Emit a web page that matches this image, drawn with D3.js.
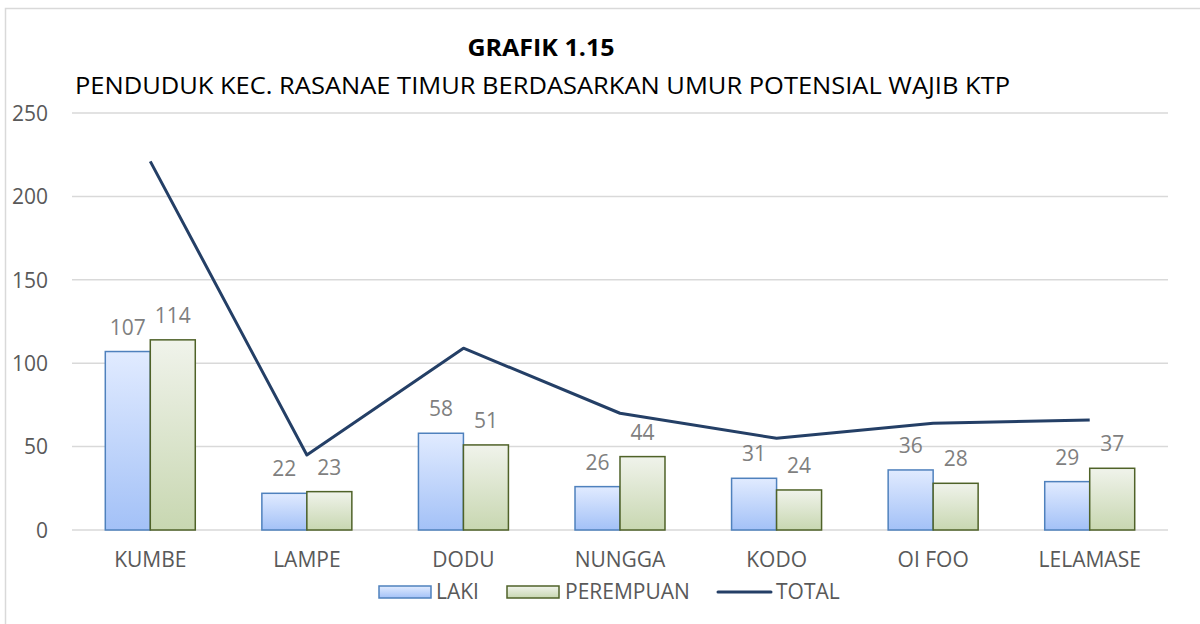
<!DOCTYPE html>
<html><head><meta charset="utf-8">
<script src="https://cdn.jsdelivr.net/npm/d3@7"></script>
<style>body{margin:0;background:#fff}svg{display:block}</style>
</head><body>
<svg id="c" width="1200" height="624"></svg>
<script>
const categories = ["KUMBE","LAMPE","DODU","NUNGGA","KODO","OI FOO","LELAMASE"];
const laki = [107,22,58,26,31,36,29];
const perempuan = [114,23,51,44,24,28,37];
const total = [221,45,109,70,55,64,66];
const yTicks = [0,50,100,150,200,250];
const seriesNames = ["LAKI","PEREMPUAN","TOTAL"];

const FONT = "'Open Sans', 'Noto Sans', sans-serif";
const svg = d3.select("#c");
const defs = svg.append("defs");
function grad(id, top, bot){
  const g = defs.append("linearGradient").attr("id",id).attr("x1",0).attr("y1",0).attr("x2",0).attr("y2",1);
  g.append("stop").attr("offset","0%").attr("stop-color",top);
  g.append("stop").attr("offset","100%").attr("stop-color",bot);
}
grad("gL","#e1ebff","#a3c1f7");
grad("gP","#f0f3eb","#c8d7b1");

// chart border
svg.append("rect").attr("x",5.5).attr("y",8.5).attr("width",1210).attr("height",640)
  .attr("fill","none").attr("stroke","#d9d9d9").attr("stroke-width",1.5);

const L = 72, R = 1168, T = 113, B = 530;
const x = d3.scaleBand().domain(categories).range([L,R]).paddingInner(0).paddingOuter(0);
const y = d3.scaleLinear().domain([0,250]).range([B,T]);
const gapFrac = 1.48;
const barW = x.bandwidth()/(2+gapFrac);
const x1 = d3.scaleBand().domain(["LAKI","PEREMPUAN"]).range([0,2*barW]);

// gridlines
svg.append("g").selectAll("line").data(yTicks).join("line")
  .attr("x1",L).attr("x2",R).attr("y1",d=>y(d)).attr("y2",d=>y(d))
  .attr("stroke","#d9d9d9").attr("stroke-width",1.5);

// y axis labels
const yAxis = d3.axisLeft(y).tickValues(yTicks).tickSize(0).tickPadding(0);
const yg = svg.append("g").attr("transform",`translate(${L-24},0)`).call(yAxis);
yg.select(".domain").remove();
yg.selectAll("text").attr("font-family",FONT).attr("font-size",21).attr("fill","#595959").attr("dy","0.35em");

// x axis labels
const xAxis = d3.axisBottom(x).tickSize(0).tickPadding(0);
const xg = svg.append("g").attr("transform",`translate(0,${B+30})`).call(xAxis);
xg.select(".domain").remove();
xg.selectAll("text").attr("font-family",FONT).attr("font-size",21).attr("fill","#595959").attr("dy","0.35em");

const off = (x.bandwidth()-2*barW)/2;
function bars(data, key, fillId, stroke){
  const g = svg.append("g");
  g.selectAll("rect").data(data).join("rect")
    .attr("x",(d,i)=>x(categories[i])+off+x1(key))
    .attr("y",d=>y(d)).attr("width",barW).attr("height",d=>B-y(d))
    .attr("fill",`url(#${fillId})`).attr("stroke",stroke).attr("stroke-width",1.5);
  g.selectAll("text").data(data).join("text")
    .attr("x",(d,i)=>x(categories[i])+off+x1(key)+barW/2)
    .attr("y",d=>y(d)-17)
    .attr("text-anchor","middle").attr("font-family",FONT).attr("font-size",21).attr("fill","#7f7f7f")
    .text(d=>d);
}
bars(laki,"LAKI","gL","#4f81bd");
bars(perempuan,"PEREMPUAN","gP","#4f6228");

// total line
const line = d3.line().x((d,i)=>x(categories[i])+x.bandwidth()/2).y(d=>y(d));
svg.append("path").datum(total).attr("d",line).attr("fill","none")
  .attr("stroke","#243f66").attr("stroke-width",3).attr("stroke-linejoin","round");

// titles
svg.append("text").attr("x",541).attr("y",56).attr("text-anchor","middle")
  .attr("font-family",FONT).attr("font-weight","bold").attr("font-size",24).attr("fill","#000")
  .attr("textLength",147).attr("lengthAdjust","spacingAndGlyphs")
  .text("GRAFIK 1.15");
svg.append("text").attr("x",75).attr("y",94)
  .attr("font-family",FONT).attr("font-size",24).attr("fill","#000")
  .attr("textLength",935).attr("lengthAdjust","spacingAndGlyphs")
  .text("PENDUDUK KEC. RASANAE TIMUR BERDASARKAN UMUR POTENSIAL WAJIB KTP");

// legend
const lg = svg.append("g").attr("font-family",FONT).attr("font-size",21).attr("fill","#595959");
const ly = 592;
lg.append("rect").attr("x",379).attr("y",ly-6).attr("width",52).attr("height",12)
  .attr("fill","url(#gL)").attr("stroke","#4f81bd").attr("stroke-width",1.5);
lg.append("text").attr("x",436).attr("y",ly).attr("dy","0.35em").text(seriesNames[0]);
lg.append("rect").attr("x",507).attr("y",ly-6).attr("width",52).attr("height",12)
  .attr("fill","url(#gP)").attr("stroke","#4f6228").attr("stroke-width",1.5);
lg.append("text").attr("x",565).attr("y",ly).attr("dy","0.35em").text(seriesNames[1]);
lg.append("line").attr("x1",718).attr("x2",771).attr("y1",ly).attr("y2",ly)
  .attr("stroke","#243f66").attr("stroke-width",3).attr("stroke-linecap","round");
lg.append("text").attr("x",776).attr("y",ly).attr("dy","0.35em").text(seriesNames[2]);
</script>
</body></html>
